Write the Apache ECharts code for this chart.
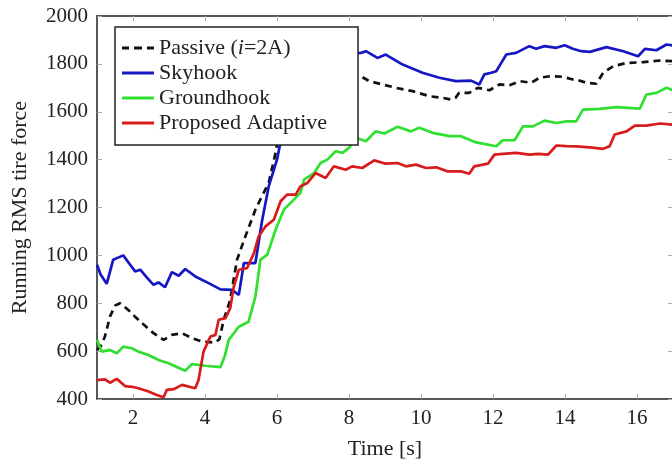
<!DOCTYPE html>
<html>
<head>
<meta charset="utf-8">
<script src="https://cdn.jsdelivr.net/npm/echarts@6/dist/echarts.min.js"></script>
<style>
  html, body { margin: 0; padding: 0; background: #fff; }
  #chart { width: 672px; height: 463px; }
</style>
</head>
<body>
<div id="chart"></div>
<script>
// [time s, running RMS tire force]
const passive = [
  [1.0, 605], [1.1, 620], [1.22, 661], [1.36, 744], [1.5, 790], [1.64, 800], [1.87, 772], [2.05, 745],
  [2.25, 717], [2.57, 675], [2.85, 647], [3.08, 668], [3.36, 675], [3.64, 654], [3.92, 640], [4.29, 636],
  [4.4, 650], [4.52, 731], [4.7, 814], [4.89, 982], [5.12, 1079], [5.4, 1191], [5.63, 1261], [5.77, 1303],
  [5.96, 1428], [6.05, 1505], [6.3, 1600], [6.7, 1700], [7.2, 1760], [7.8, 1765], [8.33, 1748], [8.56, 1728],
  [8.93, 1714], [9.3, 1700], [9.77, 1686], [10.23, 1665], [10.6, 1658], [10.83, 1651], [10.97, 1660], [11.06, 1679],
  [11.34, 1679], [11.58, 1700], [11.9, 1690], [12.18, 1714], [12.46, 1711], [12.74, 1728], [13.06, 1721], [13.29, 1742],
  [13.62, 1749], [13.94, 1746], [14.22, 1735], [14.31, 1735], [14.59, 1721], [14.87, 1717], [15.06, 1763], [15.34, 1790],
  [15.71, 1804], [16.17, 1807], [16.64, 1814], [17.0, 1811]
]
const skyhook = [
  [1.0, 961], [1.1, 920], [1.27, 881], [1.45, 982], [1.73, 1000], [1.9, 965], [2.06, 933], [2.2, 940],
  [2.4, 905], [2.57, 877], [2.71, 887], [2.89, 867], [3.08, 930], [3.27, 915], [3.45, 943], [3.73, 912],
  [4.1, 884], [4.43, 858], [4.75, 856], [4.94, 835], [5.08, 968], [5.4, 968], [5.59, 1149], [5.77, 1288],
  [6.0, 1400], [6.14, 1505], [6.4, 1650], [6.8, 1760], [7.3, 1820], [7.9, 1840], [8.33, 1846], [8.47, 1853],
  [8.79, 1825], [9.02, 1839], [9.49, 1797], [10.04, 1763], [10.51, 1742], [10.97, 1728], [11.39, 1730], [11.62, 1714],
  [11.76, 1756], [11.95, 1763], [12.09, 1769], [12.23, 1804], [12.37, 1839], [12.64, 1846], [13.01, 1874], [13.2, 1863],
  [13.43, 1874], [13.76, 1867], [13.99, 1878], [14.22, 1863], [14.45, 1853], [14.69, 1850], [15.15, 1870], [15.62, 1853],
  [16.03, 1832], [16.22, 1863], [16.54, 1857], [16.82, 1881], [17.0, 1877]
]
const groundhook = [
  [1.0, 647], [1.13, 598], [1.36, 605], [1.55, 591], [1.73, 619], [1.97, 612], [2.15, 598], [2.43, 584],
  [2.71, 563], [2.99, 549], [3.2, 535], [3.45, 518], [3.64, 546], [4.01, 539], [4.43, 533], [4.55, 580],
  [4.66, 647], [4.94, 702], [5.21, 723], [5.4, 828], [5.54, 982], [5.73, 1003], [5.96, 1107], [6.19, 1191],
  [6.47, 1233], [6.65, 1261], [6.75, 1316], [7.03, 1344], [7.21, 1386], [7.4, 1400], [7.63, 1435], [7.82, 1428],
  [8.0, 1449], [8.19, 1491], [8.47, 1477], [8.74, 1518], [8.98, 1509], [9.35, 1537], [9.72, 1518], [9.95, 1533],
  [10.32, 1512], [10.79, 1498], [11.11, 1498], [11.53, 1472], [12.09, 1456], [12.27, 1481], [12.6, 1481], [12.83, 1539],
  [13.11, 1539], [13.43, 1563], [13.76, 1553], [14.04, 1560], [14.31, 1560], [14.5, 1609], [14.96, 1612], [15.43, 1619],
  [16.08, 1613], [16.26, 1672], [16.54, 1679], [16.82, 1700], [17.0, 1690]
]
const adaptive = [
  [1.0, 479], [1.22, 482], [1.36, 468], [1.55, 484], [1.78, 454], [1.97, 451], [2.15, 445], [2.43, 431],
  [2.66, 417], [2.85, 407], [2.94, 438], [3.13, 441], [3.36, 459], [3.73, 445], [3.82, 479], [3.96, 598],
  [4.15, 661], [4.29, 668], [4.38, 731], [4.57, 738], [4.7, 779], [4.8, 870], [4.94, 940], [5.17, 947],
  [5.36, 1010], [5.49, 1079], [5.68, 1121], [5.91, 1149], [6.1, 1226], [6.28, 1254], [6.52, 1254], [6.65, 1288],
  [6.84, 1302], [7.07, 1344], [7.35, 1323], [7.58, 1372], [7.91, 1358], [8.09, 1372], [8.37, 1365], [8.7, 1397],
  [9.02, 1383], [9.35, 1386], [9.58, 1372], [9.86, 1379], [10.14, 1365], [10.42, 1368], [10.74, 1351], [11.11, 1351],
  [11.34, 1341], [11.48, 1372], [11.86, 1383], [12.04, 1421], [12.27, 1424], [12.64, 1428], [13.01, 1421], [13.25, 1424],
  [13.53, 1421], [13.76, 1459], [14.04, 1456], [14.31, 1455], [14.69, 1451], [15.06, 1445], [15.24, 1456], [15.38, 1505],
  [15.71, 1518], [15.94, 1542], [16.26, 1542], [16.64, 1551], [17.0, 1546]
]

const xTicks = [2, 4, 6, 8, 10, 12, 14, 16]
const yTicks = [400, 600, 800, 1000, 1200, 1400, 1600, 1800, 2000]

const serif = '"Liberation Serif", "DejaVu Serif", serif'
const frame = '#222'
const tickColor = '#aaa'

// legend icons: plain bar, and three dashes for the passive case
const solidIcon = 'path://M0,0h32v3h-32z'
const dashIcon = 'path://M0,0h7v3h-7zM12,0h8v3h-8zM25,0h7v3h-7z'

const chart = echarts.init(document.getElementById('chart'))

function axisX(pos, labels) {
  return {
    type: 'value',
    position: pos,
    min: 1,
    max: 17,
    name: labels ? 'Time [s]' : '',
    nameLocation: 'middle',
    nameGap: 39,
    nameTextStyle: { fontFamily: serif, fontSize: 22, color: '#222' },
    axisLine: { show: true, lineStyle: { color: frame, width: 1.5 } },
    axisTick: { show: true, inside: true, length: 5, customValues: xTicks, lineStyle: { color: tickColor } },
    axisLabel: { show: labels, customValues: xTicks, margin: 9, fontFamily: serif, fontSize: 21, color: '#222' },
    splitLine: { show: false }
  }
}

function axisY(pos, labels) {
  return {
    type: 'value',
    position: pos,
    min: yTicks[0],
    max: yTicks[yTicks.length - 1],
    interval: 200,
    name: labels ? 'Running RMS tire force' : '',
    nameLocation: 'middle',
    nameGap: 66,
    nameTextStyle: { fontFamily: serif, fontSize: 22, color: '#222' },
    axisLine: { show: true, lineStyle: { color: frame, width: 1.5 } },
    axisTick: { show: true, inside: true, length: 5, lineStyle: { color: tickColor } },
    axisLabel: {
      show: labels,
      margin: 9,
      fontFamily: serif,
      fontSize: 21,
      color: '#222',
      formatter: v => String(v)
    },
    splitLine: { show: false }
  }
}

function line(name, data, color, type) {
  return {
    name: name,
    type: 'line',
    data: data,
    symbol: 'none',
    color: color,
    lineStyle: { color: color, width: 2.7, type: type || 'solid' },
    xAxisIndex: 0,
    yAxisIndex: 0
  }
}

chart.setOption({
  animation: false,
  grid: {
    left: 97,
    top: 16,
    right: -1,
    bottom: 64,
    outerBoundsMode: 'none'
  },
  legend: {
    left: 115,
    top: 27,
    orient: 'vertical',
    itemWidth: 32,
    itemHeight: 3,
    itemGap: 3,
    padding: [10, 31, 11, 7],
    borderColor: frame,
    borderWidth: 1.5,
    borderRadius: 0,
    backgroundColor: '#fff',
    selectedMode: false,
    itemStyle: { borderWidth: 0 },
    textStyle: {
      fontFamily: serif,
      fontSize: 22,
      color: '#222',
      rich: {
        n: { fontFamily: serif, fontSize: 22, color: '#222' },
        i: { fontFamily: serif, fontSize: 22, fontStyle: 'italic', color: '#222' }
      }
    },
    formatter: function(name) {
      if (name === 'Passive') return '{n|Passive (}{i|i}{n|=2A)}'
      return name
    },
    data: [
      { name: 'Passive', icon: dashIcon },
      { name: 'Skyhook', icon: solidIcon },
      { name: 'Groundhook', icon: solidIcon },
      { name: 'Proposed Adaptive', icon: solidIcon }
    ]
  },
  xAxis: [axisX('bottom', true), axisX('top', false)],
  yAxis: [axisY('left', true), axisY('right', false)],
  series: [
    line('Passive', passive, '#111', [7, 5]),
    line('Skyhook', skyhook, '#1616c4'),
    line('Groundhook', groundhook, '#30e030'),
    line('Proposed Adaptive', adaptive, '#d81c1c')
  ]
})
</script>
</body>
</html>
